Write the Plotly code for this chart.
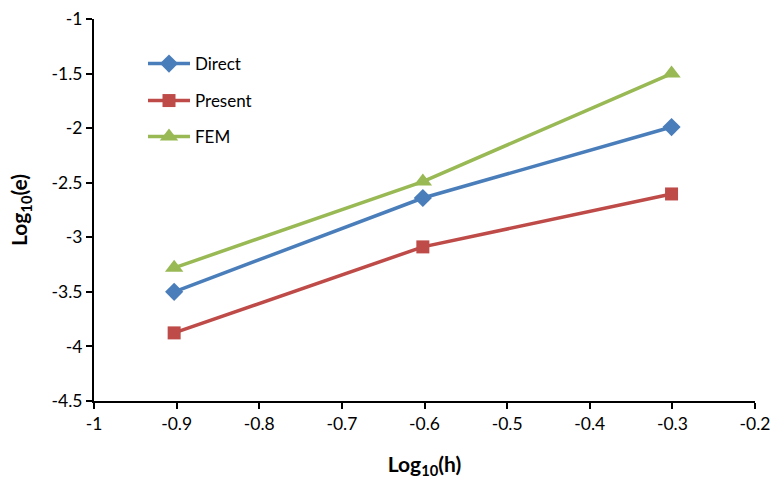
import plotly.graph_objects as go

x_vals = [-0.903, -0.602, -0.301]
direct = [-3.50, -2.64, -1.99]
present = [-3.876, -3.088, -2.603]
fem = [-3.28, -2.49, -1.50]

names = ["Direct", "Present", "FEM"]
colors = ["#4A7EBB", "#BE4B48", "#98B954"]
symbols = ["diamond", "square", "triangle-up"]
sizes = [14, 13, 16]
series = [direct, present, fem]
legends = ["legend", "legend2", "legend3"]

fig = go.Figure()
for n, c, s, sz, ys, lg in zip(names, colors, symbols, sizes, series, legends):
    fig.add_trace(go.Scatter(
        x=x_vals, y=ys, name=n, mode="lines+markers",
        line=dict(color=c, width=3.5),
        marker=dict(symbol=s, size=sz, color=c),
        legend=lg,
    ))

fam = "Lato, 'Open Sans', sans-serif"
font = dict(family=fam, size=17.5, color="#000")
leg_common = dict(xanchor="left", yanchor="middle", bgcolor="rgba(0,0,0,0)",
                  font=dict(family=fam, size=17, color="#000"),
                  itemwidth=42)
ys_leg = [64, 101, 137]
layout_leg = {}
for lg, yp in zip(legends, ys_leg):
    d = dict(leg_common)
    d["x"] = (143 - 94) / 661
    d["y"] = (401 - yp) / 382
    layout_leg[lg] = d

fig.update_layout(
    width=775, height=484,
    margin=dict(l=94, r=20, t=19, b=83),
    paper_bgcolor="white", plot_bgcolor="white",
    font=font,
    showlegend=True,
    xaxis=dict(
        range=[-1, -0.2], tickvals=[-1, -0.9, -0.8, -0.7, -0.6, -0.5, -0.4, -0.3, -0.2],
        ticktext=["-1", "-0.9", "-0.8", "-0.7", "-0.6", "-0.5", "-0.4", "-0.3", "-0.2"],
        showgrid=False, zeroline=False, showline=True, linecolor="#000", linewidth=2,
        ticks="outside", ticklen=6, tickwidth=2, tickcolor="#000", automargin=False,
        ticklabeloverflow="allow",
        title=dict(text="<b>Log<sub>10</sub>(h)</b>", font=dict(size=21), standoff=24),
    ),
    yaxis=dict(
        range=[-4.5, -1], tickvals=[-4.5, -4, -3.5, -3, -2.5, -2, -1.5, -1],
        ticktext=["-4.5", "-4", "-3.5", "-3", "-2.5", "-2", "-1.5", "-1"],
        showgrid=False, zeroline=False, showline=True, linecolor="#000", linewidth=2,
        ticks="outside", ticklen=6, tickwidth=2, tickcolor="#000", automargin=False,
        ticklabeloverflow="allow",
        title=dict(text="<b>Log<sub>10</sub>(e)</b>", font=dict(size=21), standoff=18),
    ),
    **layout_leg,
)

fig.write_html("out.html")
